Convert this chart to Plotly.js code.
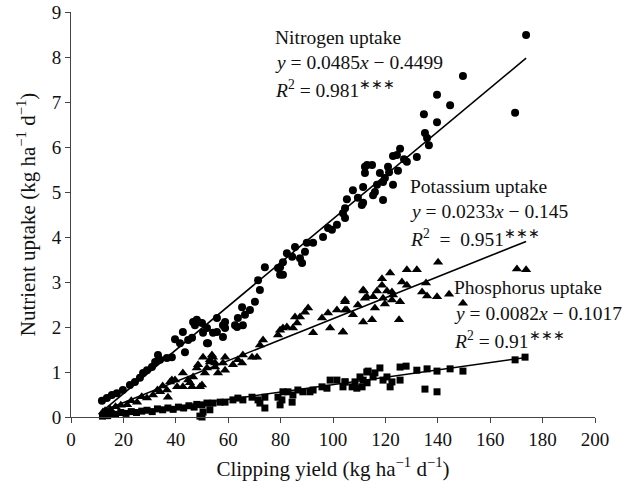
<!DOCTYPE html>
<html>
<head>
<meta charset="utf-8">
<script src="https://cdn.plot.ly/plotly-3.0.1.min.js"></script>
<style>html,body{margin:0;padding:0;background:#fff;}#chart{width:638px;height:488px;}</style>
</head>
<body>
<div id="chart"></div>
<script>
// Nitrogen uptake (circles)
const nX = [11.8,13.7,15.6,17.5,19.8,22.5,24.4,26.3,27.5,29,30.9,32.1,33.2,34,36.6,38.5,39.7,41.6,42.7,43.5,44.7,46.2,46.6,47.3,48,48.5,50,50.4,51.9,51.9,52.3,54.2,55.7,55.7,58,58,58.8,58.8,62.6,63.4,63.7,65.3,65.6,66.4,68.3,70.2,71.4,72.1,74,79,79.8,79.8,80.9,80.9,82.4,84.4,85.5,87.4,88.2,89.3,90,92.4,96.2,98.1,99.6,101.5,103.8,104.6,104.6,105.3,107.6,109.5,111,111.5,111.5,112.2,112.2,113,114.9,115.3,116,116.8,117.9,119.1,119.1,119.8,121,121.4,122.9,122.9,124.4,124.8,125.6,127.1,128.2,132,134.7,135.1,135.9,136.6,139.7,139.7,144.7,149.6,169.5,173.7];
const nY = [0.36,0.42,0.49,0.53,0.6,0.71,0.78,0.87,0.98,1.04,1.11,1.22,1.38,1.27,1.31,1.33,1.73,1.64,1.89,1.44,1.71,1.76,2.11,2.04,2.16,2.11,2.09,1.87,1.98,1.64,1.64,1.87,1.89,2.2,2.04,1.78,2.11,1.98,2.04,2.0,2.2,2.44,2.04,2.27,2.38,2.56,3.04,2.82,3.33,3.31,3.33,3.16,3.44,3.16,3.64,3.56,3.78,3.53,3.42,3.67,3.87,3.87,4.0,4.2,4.16,4.27,4.53,4.42,4.64,4.84,5.04,4.87,4.71,5.11,4.76,5.42,5.56,5.6,5.6,4.93,5.0,5.16,5.42,5.22,4.82,5.31,5.56,5.44,5.16,5.8,5.82,5.47,5.96,5.73,5.67,5.78,6.73,6.31,6.2,6.04,6.55,7.16,6.93,7.58,6.76,8.49];

// Potassium uptake (triangles)
const kX = [12.2,13,15,17,19,21.4,23,25.2,27,29,31.3,33,34,35,36.6,37,37.8,38.5,39.7,40.5,42.7,42.7,44.7,45.4,46.2,46.6,48,48.5,49.2,50,50.4,51.1,51.9,53,53,53.8,54.2,55,55,56.1,58,58.8,58.8,61.8,63.7,65.3,65.6,69.1,71,72.1,73.3,79,79.8,80.9,82.4,84.7,85.5,86.3,87.4,89.3,90.5,92.4,95.8,98.1,98.9,101.5,103.8,103.8,104.6,104.6,104.6,105.3,107.6,109.5,111.5,111.5,111.8,112.2,112.9,114.9,115.3,116,116.8,118.7,118.7,119.1,119.8,120.6,121.8,122.5,122.5,122.9,125.2,125.6,126.3,128.2,128.2,132,134,135.5,135.9,139.7,140.1,144.3,149.6,170.2,173.7];
const kY = [0.11,0.14,0.17,0.23,0.26,0.27,0.36,0.33,0.45,0.42,0.49,0.6,0.56,0.69,0.6,0.44,0.78,0.82,0.82,0.67,0.67,0.98,0.82,0.76,0.67,0.89,1.09,1.16,0.67,0.71,1.33,0.98,1.09,1.22,1.27,1.38,1.33,1.2,1.11,0.98,1.2,1.33,1.04,1.16,1.27,1.2,1.38,1.33,1.33,1.6,1.71,1.82,1.93,1.98,2.0,1.98,2.22,2.09,2.22,2.33,2.42,1.87,2.2,2.31,1.98,2.38,1.89,1.89,2.6,2.56,2.38,2.38,2.27,2.49,2.82,2.11,2.8,2.64,2.67,2.16,2.67,2.42,2.8,3.07,2.93,2.64,2.51,2.8,3.2,2.78,2.6,2.71,2.16,2.56,3.0,3.27,2.93,3.27,2.78,2.98,2.69,2.67,3.44,2.73,2.53,3.29,3.27];

// Phosphorus uptake (squares)
const pX = [12,13,14,15,17,19,21,23,25,27,29,31,33,35,37,39,41,43,45,47,48,49.2,50,50,50.4,51.9,53,54.2,56.9,58.8,61.8,63.7,65.6,69.1,71.4,72.1,74,74,79,79.8,80.5,80.9,82.8,84.4,84.7,86.6,88.5,91.2,92.4,95.8,97.7,98.9,101.5,103.8,104.6,104.6,107.3,108.4,109.1,110.3,111.1,111.5,112.9,113,113.4,115.3,116,117.9,119.1,120.6,121.8,122.5,125.6,125.6,127.9,132,135.1,135.9,139.7,139.7,144.7,149.6,169.5,173.3];
const pY = [0.02,0.05,0.03,0.08,0.06,0.1,0.08,0.12,0.1,0.13,0.15,0.12,0.18,0.16,0.2,0.17,0.22,0.2,0.25,0.22,0.28,0.02,0.27,0.0,0.11,0.31,0.16,0.31,0.33,0.33,0.38,0.42,0.38,0.44,0.38,0.31,0.44,0.2,0.44,0.27,0.38,0.56,0.56,0.33,0.49,0.6,0.56,0.56,0.6,0.67,0.64,0.82,0.82,0.67,0.78,0.78,0.67,0.78,0.64,0.89,0.67,0.82,1.0,0.76,1.02,0.89,0.98,1.09,0.82,0.89,0.67,0.78,1.11,0.82,1.13,1.04,0.62,1.07,1.02,0.56,1.07,1.02,1.27,1.33];

// Regression equations (slope, intercept) and fitted x-range
const seriesNames = ["Nitrogen uptake", "Potassium uptake", "Phosphorus uptake"];
const slopes = [0.0485, 0.0233, 0.0082];
const intercepts = [-0.4499, -0.145, -0.1017];
const fitRange = [12, 173.7];
const eqTexts = ["<i>y</i> = 0.0485<i>x</i> − 0.4499", "<i>y</i> = 0.0233<i>x</i> − 0.145", "<i>y</i> = 0.0082<i>x</i> − 0.1017"];
const r2Texts = ["<i>R</i><sup>2</sup> = 0.981<sup>∗∗∗</sup>", "<i>R</i><sup>2</sup>  =  0.951<sup>∗∗∗</sup>", "<i>R</i><sup>2</sup> = 0.91<sup>∗∗∗</sup>"];
const xTicks = [0,20,40,60,80,100,120,140,160,180,200];
const yTicks = [0,1,2,3,4,5,6,7,8,9];

const FONT = "Liberation Serif, Times New Roman, serif";
const data = [];
const pts = [[nX,nY,"circle",8],[kX,kY,"triangle-up",9],[pX,pY,"square",7]];
pts.forEach((p,i)=>{
  data.push({x:p[0], y:p[1], type:"scatter", mode:"markers", name:seriesNames[i],
    marker:{symbol:p[2], size:p[3], color:"#000"}, showlegend:false, cliponaxis:false});
});
slopes.forEach((s,i)=>{
  data.push({x:fitRange, y:fitRange.map(v=>s*v+intercepts[i]), type:"scatter", mode:"lines",
    line:{color:"#000", width:1.6}, showlegend:false});
});

const labelPos = [[77,8.44],[128.5,5.13],[145.5,2.87]];
const anns = [];
labelPos.forEach((lp,i)=>{
  const lines = [seriesNames[i], eqTexts[i], r2Texts[i]];
  const dy = [0, -0.57, -1.15];
  lines.forEach((t,j)=>{
    anns.push({x:lp[0], y:lp[1]+dy[j], xref:"x", yref:"y", text:t, showarrow:false,
      xanchor:"left", yanchor:"middle", font:{family:FONT, size:19.5, color:"#111"}});
  });
});

const SUP = s => "<sup>" + s + "</sup>";
const layout = {
  width:638, height:488,
  margin:{l:71, r:43, t:12, b:71, pad:0},
  paper_bgcolor:"#fff", plot_bgcolor:"#fff",
  font:{family:FONT, size:19, color:"#111"},
  xaxis:{range:[0,200], tickvals:xTicks, ticktext:xTicks.map(String), showgrid:false, zeroline:false,
    showline:true, linecolor:"#444", linewidth:1, ticks:"outside", ticklen:5, tickcolor:"#444",
    title:{text:"Clipping yield (kg ha" + SUP("−1") + " d" + SUP("−1") + ")", font:{family:FONT, size:21}, standoff:12},
    tickfont:{family:FONT, size:19}},
  yaxis:{range:[0,9], tickvals:yTicks, ticktext:yTicks.map(String), showgrid:false, zeroline:false,
    showline:true, linecolor:"#444", linewidth:1, ticks:"outside", ticklen:5, tickcolor:"#444",
    title:{text:"Nutrient uptake (kg ha" + SUP("−1") + " d" + SUP("−1") + ")", font:{family:FONT, size:21}, standoff:10},
    tickfont:{family:FONT, size:19}},
  annotations:anns
};
Plotly.newPlot("chart", data, layout, {displayModeBar:false, staticPlot:true});
</script>
</body>
</html>
